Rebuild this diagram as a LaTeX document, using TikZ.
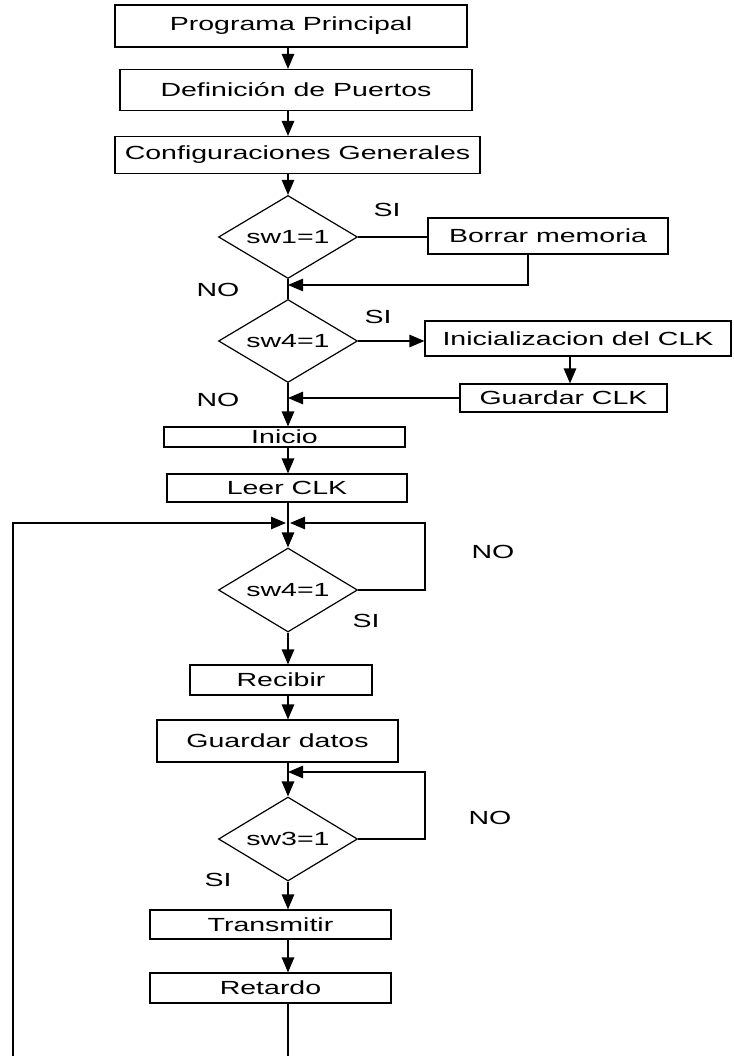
\documentclass[tikz,border=0pt]{standalone}
\usepackage{fontspec}
\setmainfont{Liberation Sans}[FakeStretch=1.5]
\usetikzlibrary{arrows.meta,shapes.geometric}
\begin{document}
\begin{tikzpicture}[x=1pt,y=-1pt,
  line width=1.2pt,
  every node/.style={font=\fontsize{19}{21}\selectfont, inner sep=0pt},
  box/.style={draw, rectangle, line width=1.2pt},
  dec/.style={draw, diamond, aspect=1.7, minimum width=139pt, line width=1.2pt},
  lbl/.style={},
  arr/.style={-{Triangle[length=15pt,width=12.5pt]}}
]
\useasboundingbox (0,0) rectangle (733,1056);
% boxes
\node[box, minimum width=352pt, minimum height=42pt] (b1) at (291,26) {Programa Principal};
\node[box, minimum width=352pt, minimum height=41pt] (b2) at (296,90) {Definición de Puertos};
\node[box, minimum width=365pt, minimum height=37pt] (b3) at (297.5,155) {Configuraciones Generales};
\node[dec, minimum height=83pt] (d1) at (288,237) {sw1=1};
\node[box, minimum width=240pt, minimum height=36pt] (borrar) at (548,236) {Borrar memoria};
\node[dec, minimum height=83pt] (d2) at (288,341) {sw4=1};
\node[box, minimum width=306pt, minimum height=35pt] (init) at (578,338.5) {Inicializacion del CLK};
\node[box, minimum width=207pt, minimum height=28pt] (gclk) at (563.5,398) {Guardar CLK};
\node[box, minimum width=241pt, minimum height=20pt] (inicio) at (284.5,437) {Inicio};
\node[box, minimum width=240pt, minimum height=28pt] (leer) at (287,488) {Leer CLK};
\node[dec, minimum height=84pt] (d3) at (288,590) {sw4=1};
\node[box, minimum width=182pt, minimum height=30pt] (recibir) at (281,680) {Recibir};
\node[box, minimum width=241pt, minimum height=42pt] (gdatos) at (277.5,741) {Guardar datos};
\node[dec, minimum height=84pt] (d4) at (288,839) {sw3=1};
\node[box, minimum width=241pt, minimum height=29pt] (trans) at (270.5,924.5) {Transmitir};
\node[box, minimum width=241pt, minimum height=30pt] (ret) at (270.5,988) {Retardo};
% labels
\node[lbl] (si1) at (387,210) {SI};
\node[lbl] (no1) at (218,290) {NO};
\node[lbl] (si2) at (378,317) {SI};
\node[lbl] (no2) at (218,400) {NO};
\node[lbl] (no3) at (493,552) {NO};
\node[lbl] (si3) at (366,621) {SI};
\node[lbl] (no4) at (490,818) {NO};
\node[lbl] (si4) at (218,880) {SI};
% helper coordinates
\coordinate (j1) at (288,285);
\coordinate (c1) at (528,285);
\coordinate (c2) at (570,0);
\coordinate (j2) at (288,523);
\coordinate (lj) at (286,523);
\coordinate (rj) at (290,523);
\coordinate (bl) at (13,1056);
\coordinate (br) at (288,1056);
\coordinate (r1) at (425,523);
\coordinate (j3) at (288,772);
\coordinate (r2) at (425,772);
% connectors
\draw[arr] (d1 |- b1.south) -- (d1 |- b2.north);
\draw[arr] (d1 |- b2.south) -- (d1 |- b3.north);
\draw[arr] (d1 |- b3.south) -- (d1.north);
\draw (d1.east) -- (d1.east -| borrar.west);
\draw[arr] (c1 |- borrar.south) -- (c1) -- (j1);
\draw (d1.south) -- (d2.north);
\draw[arr] (d2.east) -- (d2.east -| init.west);
\draw[arr] (c2 |- init.south) -- (c2 |- gclk.north);
\draw[arr] (gclk.west) -- (d2 |- gclk.west);
\draw[arr] (d2.south) -- (d2 |- inicio.north);
\draw[arr] (d2 |- inicio.south) -- (d2 |- leer.north);
\draw[arr] (d3 |- leer.south) -- (d3.north);
\draw[arr] (bl) -- (bl |- j2) -- (lj);
\draw[arr] (d3.east) -- (r1 |- d3.east) -- (r1) -- (rj);
\draw[arr] (d3.south) -- (d3 |- recibir.north);
\draw[arr] (d3 |- recibir.south) -- (d3 |- gdatos.north);
\draw[arr] (d4 |- gdatos.south) -- (d4.north);
\draw[arr] (d4.east) -- (r2 |- d4.east) -- (r2) -- (j3);
\draw[arr] (d4.south) -- (d4 |- trans.north);
\draw[arr] (d4 |- trans.south) -- (d4 |- ret.north);
\draw (d4 |- ret.south) -- (br);
\end{tikzpicture}
\end{document}
